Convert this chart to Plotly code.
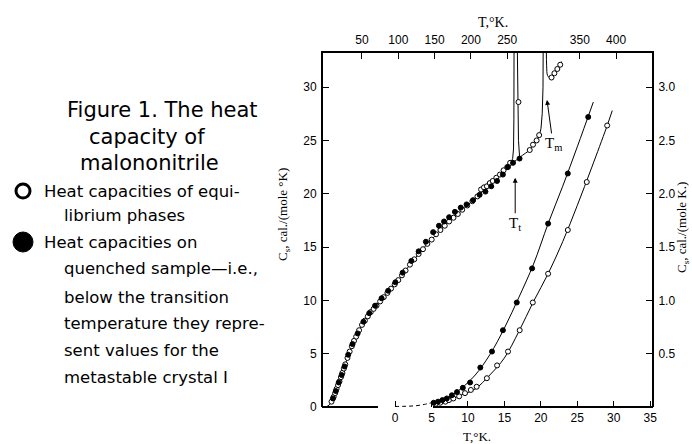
import plotly.graph_objects as go

# ---------------- data ----------------
# High-temperature run (top axis T, K ; left axis Cs cal/(mole K))
hi_open_T = [8, 11, 13, 15, 17, 19, 21, 23, 25, 27, 30, 33, 36, 39, 42, 46, 50, 54, 58, 62, 66, 70,
             75, 80, 85, 90, 95, 100, 105, 110, 116, 122, 128, 134, 140, 146, 152, 158, 164, 170,
             176, 182, 188, 195, 202, 209, 214, 218, 222, 226, 230, 235, 240, 245, 250, 254,
             265.5, 281, 285.5, 290.5, 294, 311, 315, 319, 323]
hi_open_Cs = [0.5, 0.95, 1.3, 1.7, 2.05, 2.4, 2.8, 3.2, 3.6, 4.0, 4.6, 5.2, 5.7, 6.2, 6.6, 7.2, 7.7,
              8.1, 8.5, 8.9, 9.2, 9.5, 9.9, 10.3, 10.7, 11.1, 11.5, 11.9, 12.35, 12.8, 13.35, 13.85,
              14.35, 14.8, 15.3, 15.7, 16.2, 16.6, 17.0, 17.4, 17.75, 18.1, 18.5, 18.9, 19.3, 19.75,
              20.4, 20.6, 20.7, 21.0, 21.2, 21.5, 21.8, 22.2, 22.5, 22.9,
              28.6, 24.1, 24.6, 25.0, 25.5, 30.9, 31.3, 31.7, 32.1]

hi_fill_T = [10, 14, 18, 22, 26, 31, 37, 44, 52, 60, 68, 77, 86, 96, 106, 118, 128, 138, 148, 156,
             163, 170, 178, 186, 194, 203, 212, 220, 228, 236, 244, 251, 258, 267]
hi_fill_Cs = [0.8, 1.5, 2.3, 3.0, 3.8, 4.9, 5.9, 6.9, 8.0, 8.8, 9.5, 10.2, 10.9, 11.7, 12.6, 13.7,
              14.6, 15.5, 16.4, 17.0, 17.4, 17.8, 18.3, 18.7, 19.0, 19.4, 19.9, 20.2, 20.7, 21.2,
              21.8, 22.5, 22.9, 23.3]

# smoothed curves (high T)
crystII_T = [0, 5, 10, 15, 20, 25, 30, 35, 40, 50, 60, 70, 80, 90, 100, 110, 120, 130, 140, 150,
             160, 170, 180, 190, 200, 210, 220, 230, 240, 250, 255, 257.5]
crystII_Cs = [0, 0.2, 0.8, 1.7, 2.6, 3.6, 4.6, 5.5, 6.3, 7.7, 8.7, 9.5, 10.3, 11.1, 11.9, 12.8,
              13.7, 14.5, 15.3, 16.0, 16.8, 17.4, 18.0, 18.6, 19.2, 19.8, 20.5, 21.1, 21.7, 22.4,
              22.9, 23.3]
trans_up_T = [257.5, 258.7, 259.2, 259.5]
trans_up_Cs = [23.3, 24.2, 27.0, 36.0]
trans_down_T = [263.5, 264.3, 265.5, 267.0]
trans_down_Cs = [36.0, 30.0, 25.0, 23.5]
metast_T = [240, 250, 258, 267, 275, 281, 285.5, 290.5, 294, 296.5]
metast_Cs = [21.8, 22.4, 22.9, 23.4, 23.8, 24.1, 24.6, 25.0, 25.5, 26.1]
fus_up_T = [296.5, 298.2, 299.3, 299.7]
fus_up_Cs = [26.1, 27.5, 30.0, 36.0]
liquid_T = [303.8, 304.3, 305.5, 308, 312, 318, 325]
liquid_Cs = [36.0, 32.0, 31.1, 30.9, 31.0, 31.6, 32.4]

# Low-temperature run (bottom axis T, K ; right axis Cs)
lo_fill_T = [5.3, 5.9, 6.5, 7.1, 7.8, 8.5, 9.3, 10.3, 11.7, 13.3, 14.8, 16.7, 18.8, 21.0, 23.7, 26.5]
lo_fill_Cs = [0.04, 0.05, 0.065, 0.08, 0.11, 0.14, 0.18, 0.23, 0.37, 0.52, 0.72, 0.98, 1.30, 1.72,
              2.19, 2.72]
lo_open_T = [5.6, 6.2, 6.9, 7.4, 8.0, 8.8, 9.6, 10.4, 11.2, 12.6, 14.0, 15.5, 17.1, 18.9, 21.0,
             23.7, 26.3, 29.1]
lo_open_Cs = [0.03, 0.04, 0.05, 0.065, 0.08, 0.10, 0.13, 0.16, 0.19, 0.27, 0.39, 0.52, 0.72, 0.98,
              1.25, 1.66, 2.11, 2.64]
lo_fill_line_T = [5, 7, 9, 11, 13, 15, 17, 19, 21, 23, 25, 27.2]
lo_fill_line_Cs = [0.04, 0.08, 0.17, 0.30, 0.49, 0.74, 1.03, 1.34, 1.72, 2.07, 2.44, 2.86]
lo_open_line_T = [5, 7, 9, 11, 13, 15, 17, 19, 21, 23, 25, 27, 29, 29.8]
lo_open_line_Cs = [0.03, 0.06, 0.11, 0.17, 0.30, 0.46, 0.71, 0.99, 1.25, 1.55, 1.89, 2.25, 2.62, 2.78]
extrap_T = [0, 1, 2, 3, 4, 5]
extrap_Cs = [0.005, 0.006, 0.008, 0.013, 0.024, 0.04]

top_ticks = [50, 100, 150, 200, 250, 350, 400]
bottom_ticks = [0, 5, 10, 15, 20, 25, 30, 35]
left_ticks = [0, 5, 10, 15, 20, 25, 30]
right_ticks = [0.5, 1.0, 1.5, 2.0, 2.5, 3.0]

title_lines = ["Figure 1. The heat", "capacity of", "malononitrile"]
legend_open = ["Heat capacities of equi-", "librium phases"]
legend_fill = ["Heat capacities on", "quenched sample\u2014i.e.,", "below the transition",
               "temperature they repre-", "sent values for the", "metastable crystal I"]

# ---------------- figure ----------------
W, H = 692, 444
L, R, T, B = 323, 652, 53, 407


def px(x):
    return (x - L) / (R - L)


def py(y):
    return (B - y) / (B - T)


fig = go.Figure()
line = dict(color="black", width=1)

# low-T run lives on the main subplot (x bottom, y right); high-T on overlay (x2 top, y2 left)
LO = ("x", "y")
HI = ("x2", "y2")


def curve(xs, ys, ax, shape="spline", dash=None):
    ln = dict(line)
    ln["shape"] = shape
    if dash:
        ln["dash"] = dash
    fig.add_trace(go.Scatter(x=xs, y=ys, mode="lines", line=ln, xaxis=ax[0], yaxis=ax[1],
                             hoverinfo="skip", showlegend=False, cliponaxis=False))


curve(lo_fill_line_T, lo_fill_line_Cs, LO)
curve(lo_open_line_T, lo_open_line_Cs, LO)
curve(extrap_T, extrap_Cs, LO, shape="spline", dash="4px,3px")

open_m = dict(symbol="circle", size=5, color="white", line=dict(color="black", width=1))
fill_m = dict(symbol="circle", size=5, color="black", line=dict(color="black", width=1))

fig.add_trace(go.Scatter(x=lo_open_T, y=lo_open_Cs, mode="markers", marker=open_m,
                         xaxis=LO[0], yaxis=LO[1], cliponaxis=False, showlegend=False))
fig.add_trace(go.Scatter(x=lo_fill_T, y=lo_fill_Cs, mode="markers", marker=fill_m,
                         xaxis=LO[0], yaxis=LO[1], cliponaxis=False, showlegend=False))

curve(crystII_T, crystII_Cs, HI)
for xs, ys in [(trans_up_T, trans_up_Cs), (trans_down_T, trans_down_Cs),
               (fus_up_T, fus_up_Cs)]:
    fig.add_trace(go.Scatter(x=xs, y=ys, mode="lines", line=dict(line, shape="linear"),
                             xaxis=HI[0], yaxis=HI[1], hoverinfo="skip", showlegend=False))
curve(metast_T, metast_Cs, HI)
fig.add_trace(go.Scatter(x=liquid_T, y=liquid_Cs, mode="lines", line=dict(line, shape="spline"),
                         xaxis=HI[0], yaxis=HI[1], hoverinfo="skip", showlegend=False))

fig.add_trace(go.Scatter(x=hi_open_T, y=hi_open_Cs, mode="markers", marker=open_m,
                         xaxis=HI[0], yaxis=HI[1], cliponaxis=False, showlegend=False))
fig.add_trace(go.Scatter(x=hi_fill_T, y=hi_fill_Cs, mode="markers", marker=fill_m,
                         xaxis=HI[0], yaxis=HI[1], cliponaxis=False, showlegend=False))

tickfont = dict(family="Liberation Sans, Arial, sans-serif", size=12, color="black")
axcommon = dict(showgrid=False, zeroline=False, showline=True, linecolor="black", linewidth=2,
                ticks="inside", ticklen=6, tickwidth=1, tickcolor="black", tickfont=tickfont,
                ticklabelstandoff=2)

fig.update_layout(
    width=W, height=H,
    margin=dict(l=L, r=W - R, t=T, b=H - B),
    paper_bgcolor="white", plot_bgcolor="white",
    xaxis=dict(range=[-9.88, 35.25], tickvals=bottom_ticks, anchor="y", side="bottom",
               **dict(axcommon, showline=False)),
    yaxis=dict(range=[0, 3.32], tickvals=right_ticks,
               ticktext=["%.1f" % v for v in right_ticks], anchor="x", side="right",
               **axcommon),
    xaxis2=dict(range=[-3.7, 449.4], tickvals=top_ticks, overlaying="x", side="top",
                anchor="y2", **axcommon),
    yaxis2=dict(range=[0, 33.2], tickvals=left_ticks, overlaying="y", side="left",
                anchor="x2", **axcommon),
)

serif = dict(family="Liberation Serif, Times New Roman, serif", size=14, color="black")
anns = []
anns.append(dict(text="T,\u00b0K.", x=px(493), y=py(22), xref="paper", yref="paper",
                 showarrow=False, font=serif, xanchor="center", yanchor="middle"))
anns.append(dict(text="T,\u00b0K.", x=px(477), y=py(436), xref="paper", yref="paper",
                 showarrow=False, font=dict(serif, size=13), xanchor="center", yanchor="middle"))
anns.append(dict(text="C<sub>s</sub>, cal./(mole \u00b0K)", x=px(283), y=py(215), xref="paper",
                 yref="paper", showarrow=False, font=dict(serif, size=13), textangle=-90,
                 xanchor="center", yanchor="middle"))
anns.append(dict(text="C<sub>s</sub>, cal./(mole K.)", x=px(682), y=py(228), xref="paper",
                 yref="paper", showarrow=False, font=dict(serif, size=13), textangle=-90,
                 xanchor="center", yanchor="middle"))
# Tt and Tm arrows
anns.append(dict(text="T<sub>t</sub>", x=261, y=21.5, xref="x2", yref="y2", showarrow=True,
                 ax=0, ay=46, arrowhead=2, arrowsize=1, arrowwidth=1, arrowcolor="black",
                 font=dict(serif, size=15)))
anns.append(dict(text="T<sub>m</sub>", x=304.8, y=28.8, xref="x2", yref="y2", showarrow=True,
                 ax=6, ay=44, arrowhead=2, arrowsize=1, arrowwidth=1, arrowcolor="black",
                 font=dict(serif, size=15)))

sans = dict(family="DejaVu Sans, sans-serif", size=21, color="black")
for txt, cx, cy in zip(title_lines, [162, 147, 149], [110, 137, 163]):
    anns.append(dict(text=txt, x=px(cx), y=py(cy), xref="paper", yref="paper", showarrow=False,
                     font=sans, xanchor="center", yanchor="middle"))
lfont = dict(sans, size=16.5)
for i, txt in enumerate(legend_open):
    anns.append(dict(text=txt, x=px(42 if i == 0 else 62), y=py([191, 215][i]), xref="paper",
                     yref="paper", showarrow=False, font=lfont, xanchor="left", yanchor="middle"))
for i, txt in enumerate(legend_fill):
    anns.append(dict(text=txt, x=px(42 if i == 0 else 62),
                     y=py([242, 268, 297, 323, 350, 377][i]), xref="paper", yref="paper",
                     showarrow=False, font=lfont, xanchor="left", yanchor="middle"))
fig.update_layout(annotations=anns)

shapes = [
    # legend symbols
    dict(type="circle", xref="paper", yref="paper", x0=px(16), x1=px(30), y0=py(198), y1=py(184),
         line=dict(color="black", width=3), fillcolor="white"),
    dict(type="circle", xref="paper", yref="paper", x0=px(13), x1=px(33), y0=py(252), y1=py(232),
         line=dict(color="black", width=1), fillcolor="black"),
    # bottom frame line, interrupted where the two temperature scales meet
    dict(type="line", xref="paper", yref="paper", x0=px(322), x1=px(378), y0=0, y1=0,
         line=dict(color="black", width=2)),
    dict(type="line", xref="paper", yref="paper", x0=px(433), x1=px(653), y0=0, y1=0,
         line=dict(color="black", width=2)),
]
fig.update_layout(shapes=shapes)

fig.write_html("out.html", config={"displayModeBar": False},
               post_script="document.body.style.margin='0';")
